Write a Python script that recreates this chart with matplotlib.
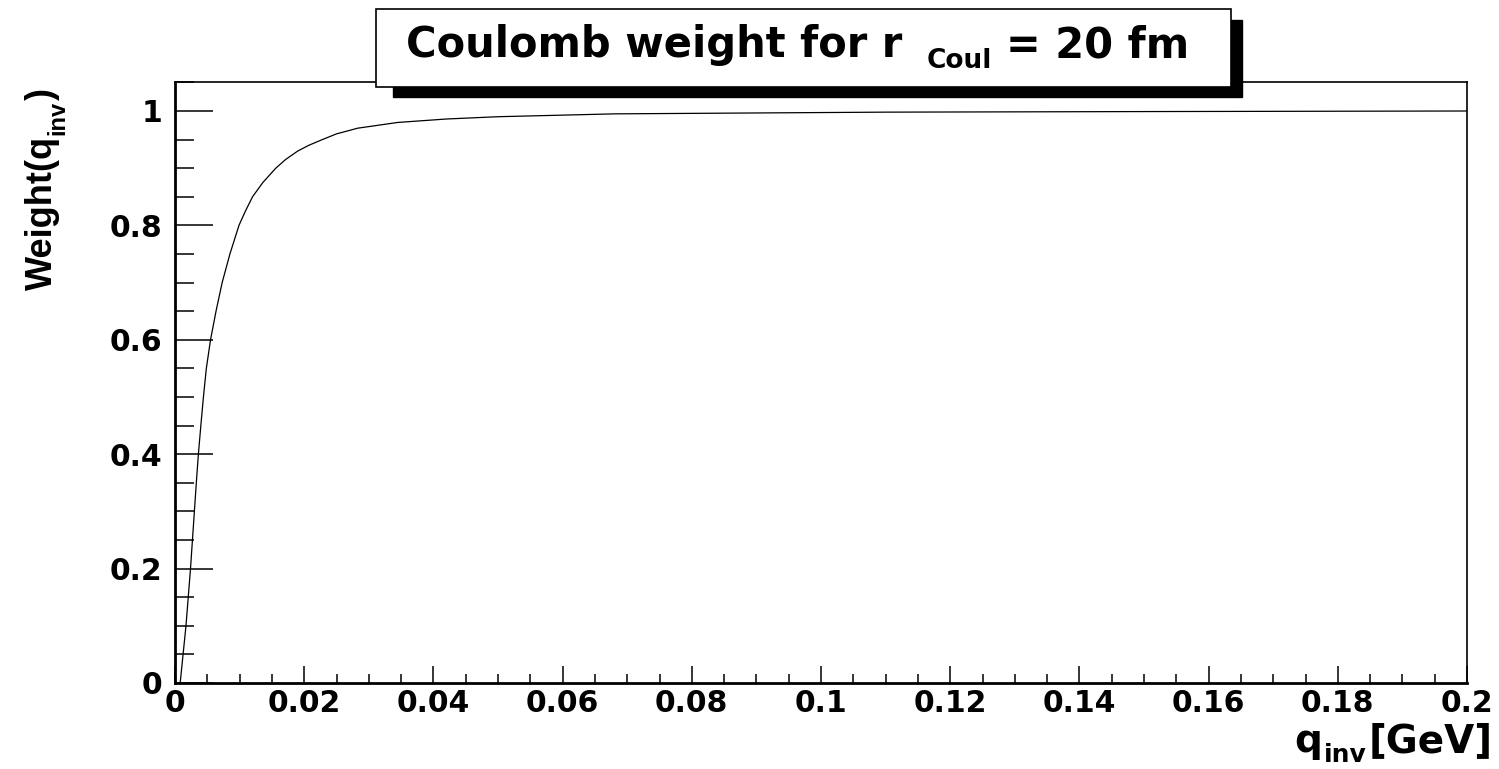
import numpy as np
import matplotlib
matplotlib.use("Agg")
import matplotlib.pyplot as plt
from matplotlib.patches import Rectangle
from matplotlib.ticker import MultipleLocator, FuncFormatter

# Coulomb weight
q_inv = [0.0008, 0.00125, 0.0017, 0.00205, 0.0024, 0.0027, 0.0030, 0.0033, 0.00362,
         0.0040, 0.0044, 0.00485, 0.0055, 0.00635, 0.0073, 0.0085, 0.0099, 0.0109,
         0.0120, 0.0136, 0.0156, 0.0171, 0.0190, 0.0207, 0.0228, 0.0250, 0.0283,
         0.0345, 0.0420, 0.0500, 0.0680, 0.1100, 0.1500, 0.2000]
weight = [0.0, 0.05, 0.10, 0.15, 0.20, 0.25, 0.30, 0.35, 0.40,
          0.45, 0.50, 0.55, 0.60, 0.65, 0.70, 0.75, 0.80, 0.825,
          0.85, 0.875, 0.90, 0.915, 0.93, 0.94, 0.95, 0.96, 0.97,
          0.98, 0.986, 0.99, 0.995, 0.998, 0.999, 1.0]

title_parts = ['Coulomb weight for r', 'Coul', '= 20 fm']
xlabel_parts = ['q', 'inv', '[GeV]']
ylabel_parts = ['Weight(q', 'inv', ')']

plt.rcParams['font.family'] = ['DejaVu Sans']
plt.rcParams['font.weight'] = 'bold'

W, H = 1499, 769
fig = plt.figure(figsize=(W / 100, H / 100), dpi=100)
ax = fig.add_axes([175 / W, 1 - 683 / H, (1467 - 175) / W, (683 - 82.4) / H])

ax.plot(q_inv, weight, color='black', lw=0.9)
ax.set_xlim(0, 0.2)
ax.set_ylim(0, 1.05)

ax.xaxis.set_major_locator(MultipleLocator(0.02))
ax.xaxis.set_minor_locator(MultipleLocator(0.005))
ax.yaxis.set_major_locator(MultipleLocator(0.2))
ax.yaxis.set_minor_locator(MultipleLocator(0.05))

fmt = FuncFormatter(lambda v, p: ('%.2f' % v).rstrip('0').rstrip('.') if v != 0 else '0')
ax.xaxis.set_major_formatter(fmt)
ax.yaxis.set_major_formatter(fmt)

ax.tick_params(axis='both', which='both', direction='in', labelsize=21.5, width=1.1)
ax.tick_params(axis='y', which='major', length=27, pad=9)
ax.tick_params(axis='y', which='minor', length=13.5)
ax.tick_params(axis='x', which='major', length=12, pad=4)
ax.tick_params(axis='x', which='minor', length=6.5)
for lab in ax.get_xticklabels() + ax.get_yticklabels():
    lab.set_fontweight('bold')

ax.spines['left'].set_linewidth(2)
ax.spines['bottom'].set_linewidth(2)
ax.spines['top'].set_linewidth(1.2)
ax.spines['right'].set_linewidth(1.2)

# title box with shadow
fig.add_artist(Rectangle((393 / W, 1 - 97 / H), (1242 - 393) / W, (97 - 20) / H,
                         transform=fig.transFigure, facecolor='black',
                         edgecolor='black', zorder=5))
fig.add_artist(Rectangle((376 / W, 1 - 87 / H), (1231 - 376) / W, (87 - 9) / H,
                         transform=fig.transFigure, facecolor='white',
                         edgecolor='black', lw=1.2, zorder=6))

renderer = fig.canvas.get_renderer()


def put(s, x, y, fs, fam='DejaVu Sans', rot=0):
    # x, y in pixels from top-left
    return fig.text(x / W, 1 - y / H, s, fontsize=fs, fontweight='bold', family=fam,
                    ha='left', va='baseline', rotation=rot, rotation_mode='anchor', zorder=7)


# title: main text, lowered subscript, rest; centred in the box
sizes = [(30, 0), (19, 11), (30, 0)]
gaps = [24, 14]
texts = [put(s, 0, 57 + dy, fs) for s, (fs, dy) in zip(title_parts, sizes)]
widths = [t.get_window_extent(renderer).width for t in texts]
total = sum(widths) + sum(gaps)
x0 = 797.5 - total / 2
for i, t in enumerate(texts):
    t.set_x(x0 / W)
    x0 += widths[i] + (gaps[i] if i < len(gaps) else 0)

# x title, right aligned
sizes = [(28, 0), (18, 10), (28, 0)]
texts = [put(s, 0, 752 + dy, fs) for s, (fs, dy) in zip(xlabel_parts, sizes)]
widths = [t.get_window_extent(renderer).width for t in texts]
x0 = 1493 - sum(widths) - 4
for t, w in zip(texts, widths):
    t.set_x(x0 / W)
    x0 += w + 2

# y title, rotated, running upward
sizes = [(26, 52), (17, 64), (26, 52)]
texts = [put(s, bx, 0, fs, fam='Liberation Sans', rot=90) for s, (fs, bx) in zip(ylabel_parts, sizes)]
lengths = [t.get_window_extent(renderer).height for t in texts]
y0 = 290
for t, h in zip(texts, lengths):
    t.set_y(1 - y0 / H)
    y0 -= h + 1

fig.savefig('out.png', dpi=100)
